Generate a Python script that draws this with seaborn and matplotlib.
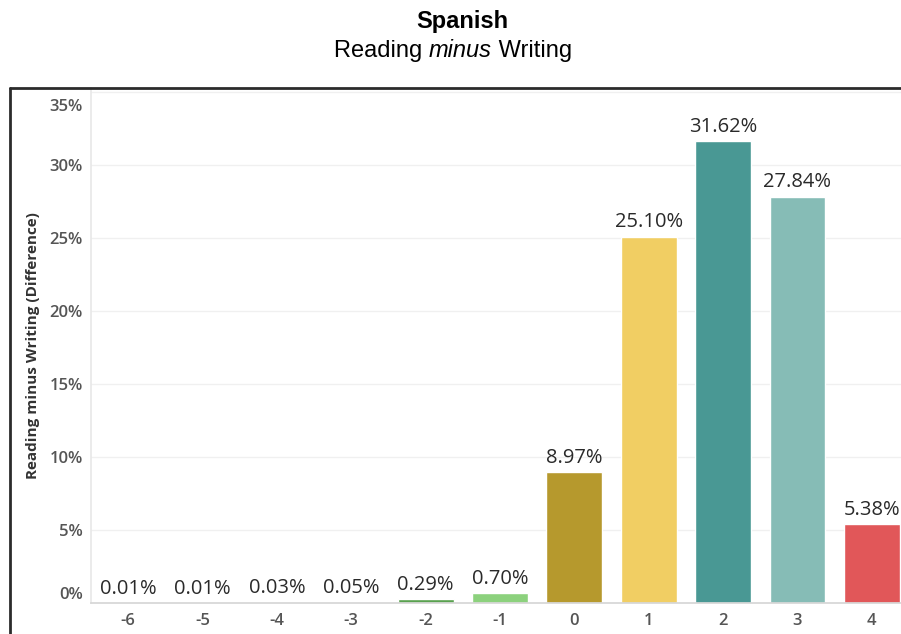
import matplotlib
matplotlib.use("Agg")
import matplotlib.pyplot as plt
from matplotlib.lines import Line2D
from matplotlib.transforms import ScaledTranslation
import seaborn as sns
import pandas as pd

# Distribution of score differences (Reading minus Writing), Spanish
differences = ["-6", "-5", "-4", "-3", "-2", "-1", "0", "1", "2", "3", "4"]
shares = [0.01, 0.01, 0.03, 0.05, 0.29, 0.70, 8.97, 25.10, 31.62, 27.84, 5.38]
bar_colors = ["#4e79a7", "#a0cbe8", "#f28e2b", "#ffbe7d", "#59a14f", "#8cd17d",
              "#b6992d", "#f1ce63", "#499894", "#86bcb6", "#e15759"]
y_ticks = [0, 5, 10, 15, 20, 25, 30, 35]

sns.set_theme(style="white")
plt.rcParams["font.family"] = ["Open Sans", "DejaVu Sans"]

df = pd.DataFrame({"diff": differences, "share": shares})

W, H = 901, 634
fig = plt.figure(figsize=(W / 100, H / 100), dpi=100)
fig.patch.set_facecolor("white")

# axes: left at x=91px, bottom (0%) at y=603px, top at y=88px, right past the edge
left_px, right_px, top_px, zero_px = 91, 909, 88, 603
ax = fig.add_axes([left_px / W, (H - zero_px) / H,
                   (right_px - left_px) / W, (zero_px - top_px) / H])

sns.barplot(data=df, x="diff", y="share", hue="diff", order=differences,
            hue_order=differences, palette=bar_colors, legend=False,
            width=0.75, saturation=1, ax=ax)

ax.set_xlim(-0.5, len(differences) - 0.5)
ymax = 35 * (zero_px - top_px) / (zero_px - 92)
ax.set_ylim(0, ymax)

for i, v in enumerate(shares):
    ax.annotate(f"{v:.2f}%", xy=(i, v), xytext=(0, 3), textcoords="offset points",
                ha="center", va="bottom", fontsize=14.5, color="#2a2a2a")

ax.set_yticks(y_ticks)
ax.set_yticklabels([f"{t}%" for t in y_ticks])
ax.tick_params(axis="y", length=0, pad=6, labelsize=12, labelcolor="#555555")
ax.tick_params(axis="x", length=0, pad=7, labelsize=12, labelcolor="#555555")

# faint separators between categories below the axis
ax.set_xticks([i + 0.5 for i in range(len(differences) - 1)], minor=True)
ax.tick_params(axis="x", which="minor", length=3, color="#e3e3e3", width=1)

for lab in ax.get_yticklabels() + ax.get_xticklabels():
    lab.set_fontweight("semibold")
# keep end labels inside the plotting band
ylabs = ax.get_yticklabels()
ylabs[0].set_verticalalignment("bottom")
ylabs[-1].set_verticalalignment("top")
ylabs[-1].set_transform(ylabs[-1].get_transform()
                        + ScaledTranslation(0, -5 / 72, fig.dpi_scale_trans))

ax.yaxis.grid(True, color="#f0f0f0", linewidth=1)
ax.xaxis.grid(False)
ax.set_axisbelow(True)
for side in ["top", "right"]:
    ax.spines[side].set_visible(False)
ax.spines["left"].set_color("#e8e8e8")
ax.spines["bottom"].set_color("#d6d6d6")

ax.set_xlabel("")
ax.set_ylabel("Reading minus Writing (Difference)", fontsize=11,
              fontweight="bold", color="#333333")
ax.yaxis.set_label_coords((40 - left_px) / (right_px - left_px), 0.5)

# dashboard frame along the left and top
frame_kw = dict(color="#2b2b2b", linewidth=2, transform=fig.transFigure)
fig.add_artist(Line2D([10 / W, 10 / W], [0, 1 - 88 / H], **frame_kw))
fig.add_artist(Line2D([10 / W, 1], [1 - 88 / H, 1 - 88 / H], **frame_kw))

# titles
tfont = ["Liberation Sans", "DejaVu Sans"]
fig.text(462 / W, 1 - 28 / H, "Spanish", ha="center", va="baseline",
         fontsize=17, fontweight="bold", family=tfont, color="black")
mid = fig.text(460 / W, 1 - 57 / H, "minus", ha="center", va="baseline",
               fontsize=17, style="italic", family=tfont, color="black")
ax.annotate("Reading ", xy=(0, 0), xycoords=mid, ha="right", va="bottom",
            fontsize=17, family=tfont, color="black", annotation_clip=False)
ax.annotate(" Writing", xy=(1, 0), xycoords=mid, ha="left", va="bottom",
            fontsize=17, family=tfont, color="black", annotation_clip=False)

fig.savefig("out.png", dpi=100)
